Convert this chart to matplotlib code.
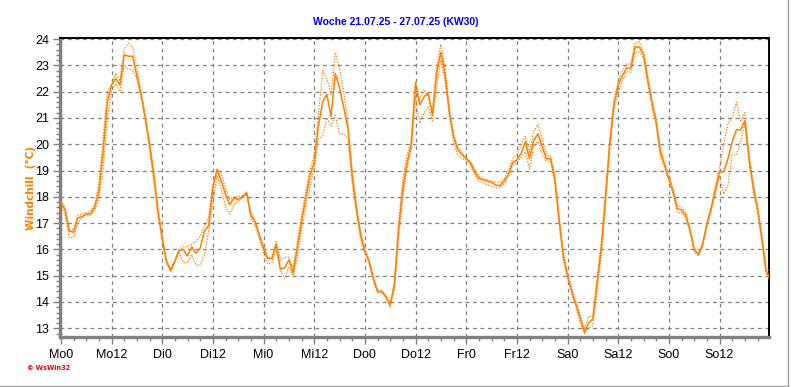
import numpy as np
import matplotlib.pyplot as plt
from matplotlib.ticker import MultipleLocator

# hourly windchill values, Mo 0:00 .. next Mo 0:00
main = [17.8, 17.5, 16.7, 16.65, 17.2, 17.25, 17.35, 17.35, 17.6, 18.2,
        19.7, 21.6, 22.25, 22.5, 22.25, 23.4, 23.35, 23.35, 22.6, 21.9,
        21.0, 20.0, 18.85, 17.45, 16.45, 15.55, 15.2, 15.55, 15.95, 16.0,
        15.75, 16.1, 15.85, 16.05, 16.7, 16.9, 18.35, 19.05, 18.6, 18.1,
        17.7, 17.95, 17.9, 18.0, 18.15, 17.3, 17.05, 16.55, 16.05, 15.65,
        15.65, 16.2, 15.25, 15.3, 15.6, 15.1, 16.05, 17.05, 17.95, 18.8,
        19.3, 20.7, 21.6, 21.9, 21.05, 22.7, 22.15, 21.4, 20.6, 18.8,
        17.55, 16.55, 15.95, 15.55, 14.9, 14.4, 14.4, 14.2, 13.9, 14.65,
        16.8, 18.3, 19.3, 20.0, 22.3, 21.5, 21.8, 21.95, 21.1, 22.7,
        23.5, 22.65, 21.25, 20.3, 19.8, 19.6, 19.45, 19.3, 18.95, 18.7,
        18.65, 18.6, 18.55, 18.45, 18.42, 18.6, 18.85, 19.3, 19.4, 19.65,
        20.1, 19.45, 20.15, 20.4, 19.9, 19.45, 19.45, 18.65, 17.15, 15.75,
        15.0, 14.4, 13.9, 13.4, 12.85, 13.2, 13.35, 14.7, 16.05, 17.95,
        20.0, 21.5, 22.25, 22.6, 22.9, 22.9, 23.7, 23.7, 23.4, 22.45,
        21.6, 20.85, 19.7, 19.2, 18.7, 18.2, 17.55, 17.5, 17.3, 16.75,
        16.0, 15.8, 16.2, 16.95, 17.55, 18.25, 18.95, 18.95, 19.45, 20.1,
        20.55, 20.55, 20.9, 19.45, 18.35, 17.55, 16.45, 15.2, 14.85]

upper = [17.85, 17.6, 16.75, 16.75, 17.3, 17.35, 17.4, 17.45, 17.7, 18.5,
         20.2, 22.0, 22.3, 22.7, 22.4, 23.6, 23.85, 23.7, 22.9, 22.0,
         21.1, 20.1, 19.0, 17.6, 16.5, 15.6, 15.25, 15.6, 16.0, 16.1,
         16.1, 16.2, 16.3, 16.5, 16.9, 17.2, 18.5, 19.0, 18.9, 18.3,
         17.9, 18.0, 18.0, 18.05, 18.2, 17.4, 17.1, 16.6, 16.1, 15.7,
         15.7, 16.3, 15.6, 15.7, 15.7, 15.3, 16.3, 17.3, 18.2, 19.0,
         19.6, 21.1, 22.8, 22.5, 21.9, 23.5, 22.9, 22.0, 20.8, 19.0,
         17.7, 16.7, 16.0, 15.6, 15.0, 14.45, 14.45, 14.25, 13.95, 14.8,
         17.0, 18.7, 19.6, 20.2, 22.4, 21.7, 22.1, 21.8, 21.3, 23.0,
         23.8, 22.9, 21.4, 20.4, 19.9, 19.7, 19.5, 19.35, 19.05, 18.8,
         18.7, 18.65, 18.6, 18.55, 18.55, 18.7, 19.0, 19.45, 19.6, 20.0,
         20.3, 19.7, 20.5, 20.75, 20.2, 19.6, 19.55, 18.8, 17.3, 15.9,
         15.1, 14.5, 14.0, 13.5, 13.0, 13.45, 13.45, 14.9, 16.3, 18.2,
         20.2, 21.7, 22.4, 22.8, 23.05, 23.05, 23.85, 23.9, 23.5, 22.6,
         21.7, 20.9, 19.9, 19.3, 18.8, 18.3, 17.7, 17.6, 17.4, 16.8,
         16.05, 15.85, 16.25, 17.0, 17.6, 18.4, 19.1, 20.0, 20.8, 21.0,
         21.6, 20.85, 21.2, 19.6, 18.5, 17.7, 16.6, 15.4, 15.0]

lower = [17.7, 17.3, 16.45, 16.45, 17.0, 17.2, 17.3, 17.3, 17.5, 17.9,
         19.0, 21.0, 22.0, 22.3, 22.0, 23.0, 22.85, 22.8, 22.5, 21.8,
         20.9, 19.8, 18.6, 17.3, 16.3, 15.45, 15.15, 15.5, 15.9, 15.5,
         15.5, 15.8, 15.4, 15.4, 15.8, 16.7, 17.8, 18.8, 18.3, 17.6,
         17.35, 17.7, 17.85, 17.95, 18.1, 17.2, 16.9, 16.4, 15.85, 15.45,
         15.5, 16.0, 15.2, 14.9, 15.3, 15.0, 15.7, 16.7, 17.6, 18.4,
         19.1, 20.2, 20.3, 21.0, 20.7, 21.1, 20.4, 20.4, 20.2, 18.5,
         17.4, 16.4, 15.85, 15.45, 14.8, 14.35, 14.35, 14.15, 13.8, 14.5,
         16.4, 18.0, 19.1, 19.8, 21.8, 20.8, 21.2, 21.4, 20.9, 22.2,
         23.2, 22.4, 21.1, 20.1, 19.6, 19.45, 19.4, 19.2, 18.85, 18.6,
         18.55, 18.45, 18.4, 18.35, 18.35, 18.5, 18.8, 19.2, 19.3, 19.5,
         19.7, 19.05, 19.9, 20.1, 19.6, 19.35, 19.35, 18.5, 17.0, 15.6,
         14.9, 14.3, 13.8, 13.2, 12.8, 13.0, 13.1, 14.4, 15.8, 17.7,
         19.8, 21.3, 22.0, 22.4, 22.75, 22.75, 23.5, 23.5, 23.3, 22.3,
         21.4, 20.7, 19.5, 19.1, 18.6, 18.1, 17.4, 17.4, 17.2, 16.65,
         15.9, 15.75, 16.1, 16.85, 17.45, 18.1, 18.8, 18.1, 18.45, 19.6,
         19.6, 20.1, 20.8, 19.3, 18.2, 17.45, 16.3, 15.1, 14.8]

tick_labels = ["Mo0", "Mo12", "Di0", "Di12", "Mi0", "Mi12", "Do0", "Do12",
               "Fr0", "Fr12", "Sa0", "Sa12", "So0", "So12"]
title = "Woche 21.07.25 - 27.07.25 (KW30)"

hours = np.arange(len(main))
orange = "#FF8000"

fig = plt.figure(figsize=(7.92, 3.87), dpi=100)
fig.patch.set_facecolor("white")
ax = fig.add_axes([60 / 792, 1 - 336.7 / 387, 708.5 / 792, 298.4 / 387])

ax.plot(hours, upper, color=orange, lw=0.9, ls=(0, (1, 1.2)), zorder=3)
ax.plot(hours, lower, color=orange, lw=0.9, ls=(0, (1, 1.2)), zorder=3)
ax.plot(hours, main, color=orange, lw=1.1, zorder=4)

ax.set_xlim(-0.2, 167.6)
ax.set_ylim(12.68, 24.03)
ax.set_xticks(np.arange(0, 168, 12))
ax.set_xticklabels(tick_labels)
ax.xaxis.set_minor_locator(MultipleLocator(3))
ax.set_yticks(np.arange(13, 25))
ax.yaxis.set_minor_locator(MultipleLocator(0.2))

ax.grid(True, which="major", color="#808080", ls=(0, (3, 3)), lw=0.9)
ax.set_axisbelow(True)

for s in ("left", "bottom"):
    ax.spines[s].set_color("#808080")
    ax.spines[s].set_linewidth(2.4)
for s in ("top", "right"):
    ax.spines[s].set_color("black")
    ax.spines[s].set_linewidth(1.4)

ax.tick_params(axis="both", which="major", colors="#808080", labelcolor="black",
               labelsize=9, length=5, width=1)
ax.tick_params(axis="both", which="minor", colors="#808080", length=3, width=1)
ax.tick_params(axis="x", pad=4)
ax.tick_params(axis="y", pad=3)
for lab in ax.get_xticklabels() + ax.get_yticklabels():
    lab.set_family("Liberation Sans")

fig.text(0.5, 1 - 22 / 387, title, color="#0000FF", fontsize=7.5,
         fontweight="bold", family="Liberation Sans", ha="center", va="center")
fig.text(31 / 792, 1 - 188 / 387, "Windchill  (°C)", color=orange, fontsize=7.5,
         fontweight="bold", rotation=90, ha="center", va="center")
fig.text(27 / 792, 1 - 368 / 387, "© WsWin32", color="red", fontsize=4.8,
         fontweight="bold", ha="left", va="center")

# gray frame edge at right and bottom
fig.add_artist(plt.Line2D([787.5 / 792, 787.5 / 792], [1.5 / 387, 1], color="#A0A0A0", lw=1))
fig.add_artist(plt.Line2D([0, 787.5 / 792], [1.5 / 387, 1.5 / 387], color="#A0A0A0", lw=1))

fig.savefig("out.png", dpi=100)
